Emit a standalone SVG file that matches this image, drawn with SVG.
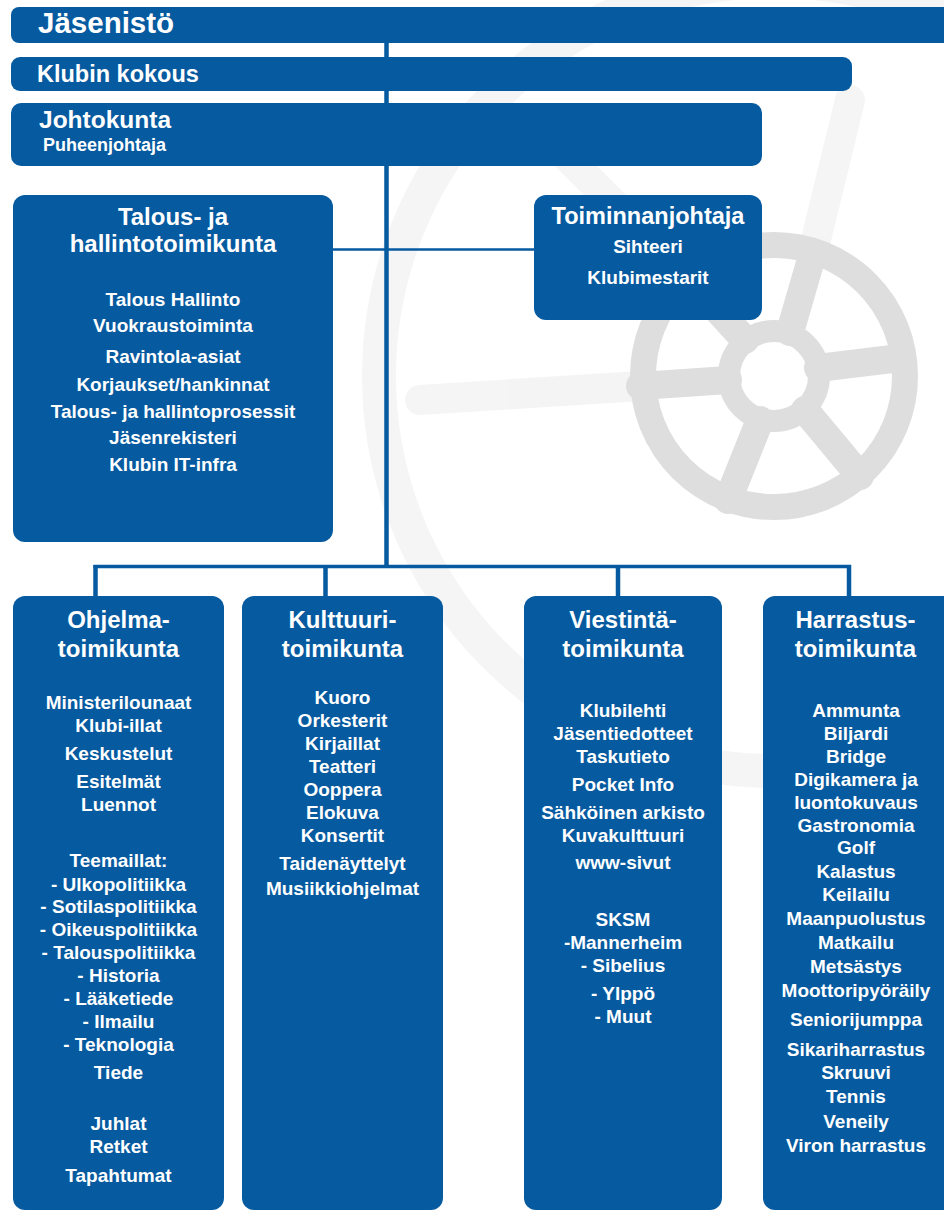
<svg xmlns="http://www.w3.org/2000/svg" width="944" height="1210" viewBox="0 0 944 1210">
<style>
.box{fill:#065a9f}
.conn{stroke:#065a9f;fill:none}
text{font-family:"Liberation Sans",Arial,sans-serif;font-weight:bold;fill:#ffffff}
.t{font-size:24px;text-anchor:middle}
.i{font-size:19px;text-anchor:middle}
.wh{fill:none;stroke:#dedede}
</style>
<rect width="944" height="1210" fill="#ffffff"/>
<g id="background-wheel">
  <circle class="wh" cx="774" cy="376" r="395" stroke-width="34" opacity="0.3"/>
  <circle class="wh" cx="774" cy="376" r="131" stroke-width="26"/>
  <circle class="wh" cx="774" cy="376" r="45" stroke-width="22"/>
  <g class="wh" stroke-width="28" stroke-linecap="round">
    <line x1="728" y1="380" x2="640" y2="386"/>
    <line x1="760" y1="420" x2="728" y2="500"/>
    <line x1="805" y1="410" x2="860" y2="476"/>
    <line x1="818" y1="368" x2="900" y2="358"/>
    <line x1="790" y1="332" x2="812" y2="256"/>
    <line x1="745" y1="340" x2="692" y2="282"/>
  </g>
  <g class="wh" stroke-width="30" stroke-linecap="round" opacity="0.3">
    <line x1="640" y1="386" x2="420" y2="400"/>
    <line x1="812" y1="256" x2="850" y2="100"/>
    <line x1="692" y1="282" x2="560" y2="150"/>
  </g>
</g>
<g id="connectors">
  <line class="conn" x1="386.5" y1="40" x2="386.5" y2="568" stroke-width="4.5"/>
  <line class="conn" x1="330" y1="249.5" x2="538" y2="249.5" stroke-width="2.5"/>
  <line class="conn" x1="93.5" y1="566.5" x2="851" y2="566.5" stroke-width="3.5"/>
  <line class="conn" x1="95.5" y1="565" x2="95.5" y2="600" stroke-width="4.5"/>
  <line class="conn" x1="325.5" y1="565" x2="325.5" y2="600" stroke-width="4.5"/>
  <line class="conn" x1="618" y1="565" x2="618" y2="600" stroke-width="4.5"/>
  <line class="conn" x1="849" y1="565" x2="849" y2="600" stroke-width="4.5"/>
</g>
<g id="jasenisto">
  <rect class="box" x="11" y="7" width="950" height="36" rx="8"/>
  <text x="38" y="33" style="font-size:29.5px">Jäsenistö</text>
</g>
<g id="klubin-kokous">
  <rect class="box" x="11" y="57" width="841" height="34" rx="9"/>
  <text x="37" y="82" style="font-size:23.5px">Klubin kokous</text>
</g>
<g id="johtokunta">
  <rect class="box" x="11" y="103" width="751" height="63" rx="10"/>
  <text x="39" y="128" style="font-size:24.5px">Johtokunta</text>
  <text x="43" y="151" style="font-size:18px">Puheenjohtaja</text>
</g>
<g id="talous">
  <rect class="box" x="13" y="195" width="320" height="347" rx="12"/>
  <text class="t" x="173" y="225">Talous- ja</text>
  <text class="t" x="173" y="252">hallintotoimikunta</text>
  <text class="i" x="173" y="306">Talous Hallinto</text>
  <text class="i" x="173" y="332">Vuokraustoiminta</text>
  <text class="i" x="173" y="363">Ravintola-asiat</text>
  <text class="i" x="173" y="391">Korjaukset/hankinnat</text>
  <text class="i" x="173" y="418">Talous- ja hallintoprosessit</text>
  <text class="i" x="173" y="444">Jäsenrekisteri</text>
  <text class="i" x="173" y="471">Klubin IT-infra</text>
</g>
<g id="toiminnanjohtaja">
  <rect class="box" x="534" y="195" width="228" height="125" rx="12"/>
  <text class="t" x="648" y="224" style="font-size:23.5px">Toiminnanjohtaja</text>
  <text class="i" x="648" y="253">Sihteeri</text>
  <text class="i" x="648" y="284">Klubimestarit</text>
</g>
<g id="ohjelma">
  <rect class="box" x="13" y="596" width="211" height="614" rx="12"/>
  <text class="t" x="118.5" y="628">Ohjelma-</text>
  <text class="t" x="118.5" y="657">toimikunta</text>
  <text class="i" x="118.5" y="709">Ministerilounaat</text>
  <text class="i" x="118.5" y="732">Klubi-illat</text>
  <text class="i" x="118.5" y="760">Keskustelut</text>
  <text class="i" x="118.5" y="788">Esitelmät</text>
  <text class="i" x="118.5" y="811">Luennot</text>
  <text class="i" x="118.5" y="867">Teemaillat:</text>
  <text class="i" x="118.5" y="891">- Ulkopolitiikka</text>
  <text class="i" x="118.5" y="913">- Sotilaspolitiikka</text>
  <text class="i" x="118.5" y="936">- Oikeuspolitiikka</text>
  <text class="i" x="118.5" y="959">- Talouspolitiikka</text>
  <text class="i" x="118.5" y="982">- Historia</text>
  <text class="i" x="118.5" y="1005">- Lääketiede</text>
  <text class="i" x="118.5" y="1028">- Ilmailu</text>
  <text class="i" x="118.5" y="1051">- Teknologia</text>
  <text class="i" x="118.5" y="1079">Tiede</text>
  <text class="i" x="118.5" y="1130">Juhlat</text>
  <text class="i" x="118.5" y="1153">Retket</text>
  <text class="i" x="118.5" y="1182">Tapahtumat</text>
</g>
<g id="kulttuuri">
  <rect class="box" x="242" y="596" width="201" height="614" rx="12"/>
  <text class="t" x="342.5" y="628">Kulttuuri-</text>
  <text class="t" x="342.5" y="657">toimikunta</text>
  <text class="i" x="342.5" y="704">Kuoro</text>
  <text class="i" x="342.5" y="727">Orkesterit</text>
  <text class="i" x="342.5" y="750">Kirjaillat</text>
  <text class="i" x="342.5" y="773">Teatteri</text>
  <text class="i" x="342.5" y="796">Ooppera</text>
  <text class="i" x="342.5" y="819">Elokuva</text>
  <text class="i" x="342.5" y="842">Konsertit</text>
  <text class="i" x="342.5" y="870">Taidenäyttelyt</text>
  <text class="i" x="342.5" y="895">Musiikkiohjelmat</text>
</g>
<g id="viestinta">
  <rect class="box" x="524" y="596" width="198" height="614" rx="12"/>
  <text class="t" x="623" y="628">Viestintä-</text>
  <text class="t" x="623" y="657">toimikunta</text>
  <text class="i" x="623" y="717">Klubilehti</text>
  <text class="i" x="623" y="740">Jäsentiedotteet</text>
  <text class="i" x="623" y="763">Taskutieto</text>
  <text class="i" x="623" y="791">Pocket Info</text>
  <text class="i" x="623" y="819">Sähköinen arkisto</text>
  <text class="i" x="623" y="842">Kuvakulttuuri</text>
  <text class="i" x="623" y="869">www-sivut</text>
  <text class="i" x="623" y="926">SKSM</text>
  <text class="i" x="623" y="949">-Mannerheim</text>
  <text class="i" x="623" y="972">- Sibelius</text>
  <text class="i" x="623" y="1000">- Ylppö</text>
  <text class="i" x="623" y="1023">- Muut</text>
</g>
<g id="harrastus">
  <rect class="box" x="763" y="596" width="192" height="614" rx="12"/>
  <text class="t" x="855.5" y="628">Harrastus-</text>
  <text class="t" x="855.5" y="657">toimikunta</text>
  <text class="i" x="856" y="717">Ammunta</text>
  <text class="i" x="856" y="740">Biljardi</text>
  <text class="i" x="856" y="763">Bridge</text>
  <text class="i" x="856" y="786">Digikamera ja</text>
  <text class="i" x="856" y="809">luontokuvaus</text>
  <text class="i" x="856" y="832">Gastronomia</text>
  <text class="i" x="856" y="854">Golf</text>
  <text class="i" x="856" y="878">Kalastus</text>
  <text class="i" x="856" y="901">Keilailu</text>
  <text class="i" x="856" y="925">Maanpuolustus</text>
  <text class="i" x="856" y="949">Matkailu</text>
  <text class="i" x="856" y="973">Metsästys</text>
  <text class="i" x="856" y="997">Moottoripyöräily</text>
  <text class="i" x="856" y="1026">Seniorijumppa</text>
  <text class="i" x="856" y="1056">Sikariharrastus</text>
  <text class="i" x="856" y="1079">Skruuvi</text>
  <text class="i" x="856" y="1103">Tennis</text>
  <text class="i" x="856" y="1128">Veneily</text>
  <text class="i" x="856" y="1152">Viron harrastus</text>
</g>
</svg>
